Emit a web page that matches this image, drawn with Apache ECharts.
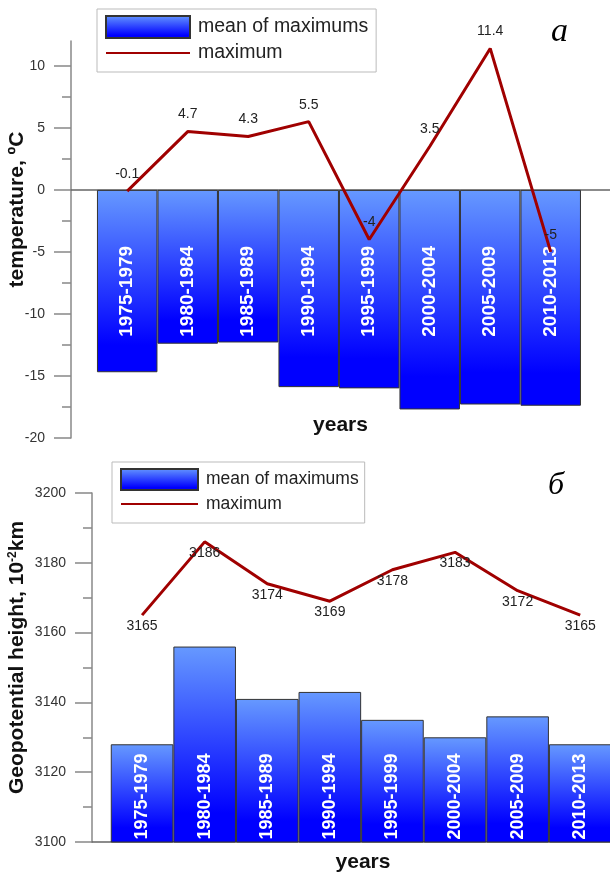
<!DOCTYPE html>
<html><head><meta charset="utf-8">
<script src="https://cdn.jsdelivr.net/npm/echarts@6/dist/echarts.min.js"></script>
<style>html,body{margin:0;padding:0;background:#fff}#c{width:610px;height:874px}</style>
</head><body><div id="c"></div>
<script>
const periods = ['1975-1979','1980-1984','1985-1989','1990-1994','1995-1999','2000-2004','2005-2009','2010-2013'];
const tempMeanOfMax = [-14.7,-12.4,-12.3,-15.9,-16.0,-17.7,-17.3,-17.4];
const tempMax = [-0.1,4.7,4.3,5.5,-4,3.5,11.4,-5];
const geoMeanOfMax = [3128,3156,3141,3143,3135,3130,3136,3128];
const geoMax = [3165,3186,3174,3169,3178,3183,3172,3165];
const tempTicks = [-20,-15,-10,-5,0,5,10];
const tempMinorTicks = [-17.5,-12.5,-7.5,-2.5,2.5,7.5];
const geoTicks = [3100,3120,3140,3160,3180,3200];
const geoMinorTicks = [3110,3130,3150,3170,3190];
const legendNames = ['mean of maximums','maximum'];

const FONT = '"Liberation Sans", Arial, sans-serif';
const AX = '#888';
const RED = '#a00000';
const grad = () => new echarts.graphic.LinearGradient(0,0,0,1,[
  {offset:0,color:'#6699ff'},{offset:0.85,color:'#0000ff'},{offset:1,color:'#0000ff'}]);
const idx = a => a.map((v,i)=>[i,v]);

const chart = echarts.init(document.getElementById('c'), null, {renderer:'canvas'});

function legendCfg(left, top, iw, ih, fs, pad){
  return {
    left:left, top:top, orient:'vertical', itemWidth:iw, itemHeight:ih, itemGap:4,
    padding:pad, borderColor:'#bbb', borderWidth:1, backgroundColor:'#fff',
    selectedMode:false,
    textStyle:{fontSize:fs, color:'#222', fontFamily:FONT, padding:[0,0,0,3]},
    data:[{name:legendNames[0], icon:'rect'},{name:legendNames[1]}]
  };
}
function yMain(gi, min, max, interval, ticks, name, gap, pad){
  return {
    gridIndex:gi, type:'value', min:min, max:max, interval:interval, position:'left',
    axisLine:{show:true, onZero:false, lineStyle:{color:AX, width:1.5}},
    axisTick:{show:true, length:17, customValues:ticks, lineStyle:{color:AX, width:1.5}},
    axisLabel:{margin:26, fontSize:14, color:'#333', fontFamily:FONT,
      formatter: v => (ticks.indexOf(v) >= 0 ? String(v) : '')},
    splitLine:{show:false},
    name:name, nameLocation:'middle', nameGap:gap, nameMoveOverlap:false,
    nameTextStyle:{fontSize:21, fontWeight:'bold', color:'#111', fontFamily:FONT, padding:pad}
  };
}
function yMinor(gi, min, max, ticks){
  return {gridIndex:gi, type:'value', min:min, max:max, position:'left',
    axisLine:{show:false, onZero:false}, axisLabel:{show:false}, splitLine:{show:false},
    axisTick:{show:true, length:9, customValues:ticks, lineStyle:{color:AX, width:1.5}}};
}

const option = {
  animation:false,
  backgroundColor:'#fff',
  textStyle:{fontFamily:FONT},
  title:[
    {text:'а', left:546, top:10, textStyle:{fontFamily:'"Liberation Serif", serif', fontStyle:'italic', fontWeight:'normal', fontSize:34, color:'#000'}},
    {text:'б', left:543, top:465, textStyle:{fontFamily:'"Liberation Serif", serif', fontStyle:'italic', fontWeight:'normal', fontSize:32, color:'#000'}}
  ],
  legend:[
    legendCfg(97, 9, 84, 22, 19.5, [6,8,9,8]),
    legendCfg(112, 462, 77, 21, 17.5, [6,6,10,8])
  ],
  grid:[
    {left:71, right:0, top:41, bottom:436, containLabel:false, outerBoundsMode:'none'},
    {left:92, right:0, top:493, bottom:32, containLabel:false, outerBoundsMode:'none'}
  ],
  xAxis:[
    {gridIndex:0, type:'value', min:-0.929, max:7.98,
      axisLine:{onZero:true, lineStyle:{color:'#666', width:1.5}},
      axisTick:{show:false}, axisLabel:{show:false}, splitLine:{show:false},
      name:'years', nameLocation:'middle', nameGap:-23,
      nameTextStyle:{fontSize:21, fontWeight:'bold', color:'#111', fontFamily:FONT}},
    {gridIndex:1, type:'value', min:-0.8, max:7.476,
      axisLine:{onZero:false, lineStyle:{color:'#666', width:1.5}},
      axisTick:{show:false}, axisLabel:{show:false}, splitLine:{show:false},
      name:'years', nameLocation:'middle', nameGap:10,
      nameTextStyle:{fontSize:21, fontWeight:'bold', color:'#111', fontFamily:FONT, padding:[0,0,0,24]}}
  ],
  yAxis:[
    yMain(0, -20, 12, 5, tempTicks, 'temperature, ºC', 43, [0,0,0,60]),
    yMinor(0, -20, 12, tempMinorTicks),
    yMain(1, 3100, 3200, 20, geoTicks, 'Geopotential height, 10{sup|-2}km', 64, [0,0,0,20]),
    yMinor(1, 3100, 3200, geoMinorTicks)
  ],
  series:[
    {name:legendNames[0], type:'bar', xAxisIndex:0, yAxisIndex:0, barWidth:60.5,
      data:idx(tempMeanOfMax),
      itemStyle:{color:grad(), borderColor:'#333', borderWidth:1},
      label:{show:true, position:'insideTop', distance:56, rotate:90, align:'right', verticalAlign:'middle',
        formatter:p => periods[p.dataIndex], color:'#fff', fontSize:19, fontWeight:'bold', fontFamily:FONT}},
    {name:legendNames[1], type:'line', xAxisIndex:0, yAxisIndex:0, data:idx(tempMax),
      symbol:'circle', symbolSize:2, itemStyle:{color:'transparent', borderWidth:0},
      lineStyle:{color:RED, width:3},
      label:{show:true, position:'top', distance:9, fontSize:14, color:'#222', fontFamily:FONT}},
    {name:legendNames[0], type:'bar', xAxisIndex:1, yAxisIndex:2, barWidth:62.6,
      data:idx(geoMeanOfMax),
      itemStyle:{color:grad(), borderColor:'#333', borderWidth:1},
      label:{show:true, position:'insideBottom', distance:3, rotate:90, align:'left', verticalAlign:'middle',
        formatter:p => periods[p.dataIndex], color:'#fff', fontSize:18, fontWeight:'bold', fontFamily:FONT}},
    {name:legendNames[1], type:'line', xAxisIndex:1, yAxisIndex:2, data:idx(geoMax),
      symbol:'circle', symbolSize:2, itemStyle:{color:'transparent', borderWidth:0},
      lineStyle:{color:RED, width:3},
      label:{show:true, position:'bottom', distance:3, fontSize:14, color:'#222', fontFamily:FONT}}
  ]
};
option.yAxis[2].nameTextStyle.rich = {sup:{fontSize:12, fontWeight:'bold', color:'#111', fontFamily:FONT, verticalAlign:'top'}};
chart.setOption(option);
</script>
</body></html>
